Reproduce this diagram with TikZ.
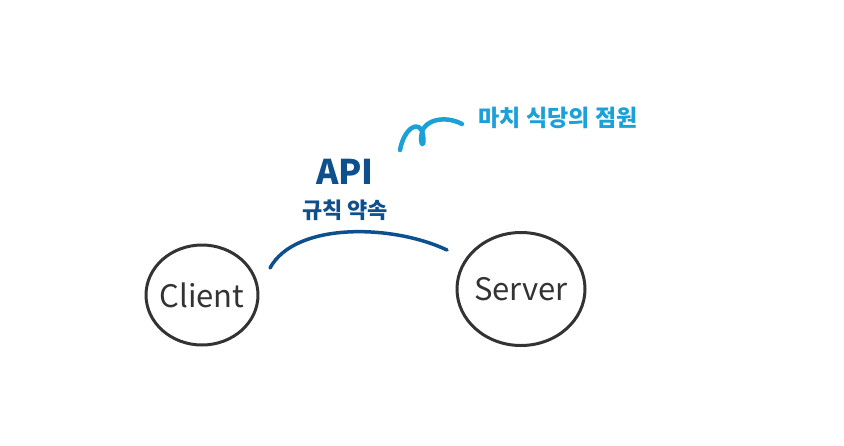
\documentclass[tikz,border=0pt]{standalone}
\usepackage{fontspec}
\setmainfont{Noto Sans CJK KR}
\usetikzlibrary{shapes.geometric}
\definecolor{pen}{HTML}{333333}
\definecolor{apiblue}{HTML}{0E4F8E}
\definecolor{noteblue}{HTML}{1BA0D8}
\tikzset{
  party/.style={draw=pen, line width=3pt, ellipse, inner sep=0pt,
    label={[text=pen, font=\fontsize{31}{31}\selectfont]center:#1}},
  apitext/.style={text=apiblue},
}
\begin{document}
\begin{tikzpicture}[x=1pt, y=-1pt, line cap=round, line join=round]
	\useasboundingbox (0,0) rectangle (844,445);
	% 두 주체
	\node[party=Client, minimum width=112pt, minimum height=100pt] (client) at (202,295) {};
	\node[party=Server, minimum width=128pt, minimum height=113pt] (server) at (521,289) {};
	% API 호
	\coordinate (apiL) at (270,268);
	\coordinate (apiR) at (447,250);
	\draw[apiblue, line width=3.5pt] (apiL) .. controls (295,222) and (392,224) .. (apiR);
	\node[apitext, font=\bfseries\fontsize{34}{34}\selectfont] (api) at (345,172) {API};
	\node[apitext, font=\bfseries\fontsize{22}{22}\selectfont] (rule) at (345,210) {규칙 약속};
	% 설명 메모
	\draw[noteblue, line width=4.5pt] (400,150) .. controls (404,128) and (420,118) .. (423,135)
		.. controls (425,150) and (419,145) .. (422,132)
		.. controls (425,120) and (445,115) .. (462,124);
	\node[text=noteblue, font=\bfseries\fontsize{23}{23}\selectfont] (note) at (558,118) {마치 식당의 점원};
\end{tikzpicture}
\end{document}
